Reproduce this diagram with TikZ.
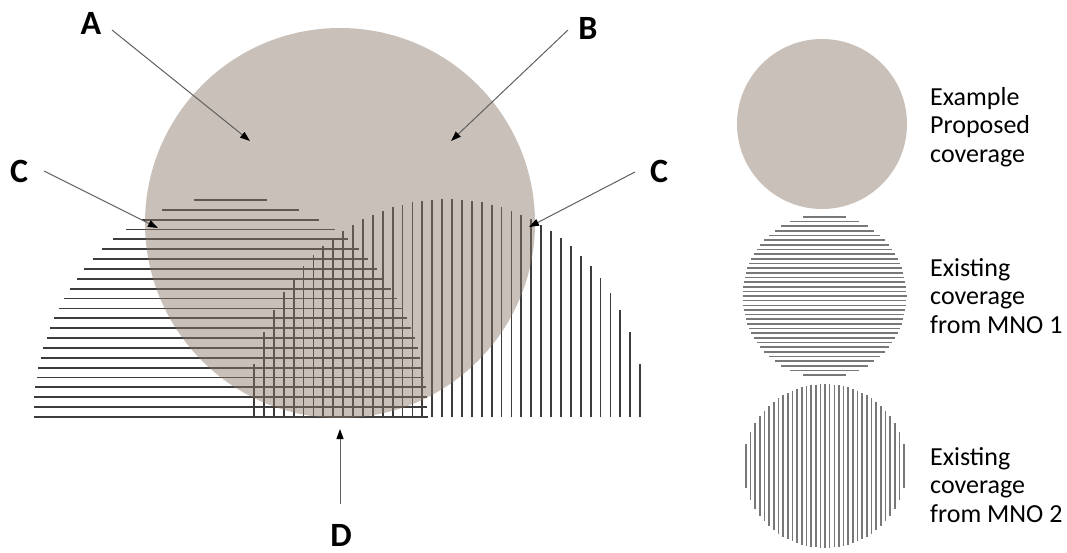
\documentclass[tikz,border=0pt]{standalone}
\usepackage{fontspec}
\setmainfont{Carlito}
\usetikzlibrary{arrows.meta}
\definecolor{propfill}{RGB}{140,121,106}
\definecolor{hatch}{RGB}{60,60,60}
\definecolor{leghatch}{RGB}{120,120,120}
\definecolor{arrowline}{RGB}{95,95,95}
\begin{document}
\begin{tikzpicture}[x=1pt,y=-1pt,
  lbl/.style={font=\fontsize{34}{34}\selectfont\bfseries, inner sep=0pt, anchor=base},
  legtext/.style={font=\fontsize{26}{28.5}\selectfont, align=left, anchor=base west, inner sep=0pt},
  pointer/.style={draw=arrowline, line width=1pt, -{Triangle[length=10pt,width=7pt,color=black]}},
  hline/.style={draw=hatch, line width=1.8pt},
  legline/.style={draw=leghatch, line width=1.6pt},
  proposed/.style={fill=propfill, fill opacity=0.47}]
\useasboundingbox (0,0) rectangle (1067,552);

% MNO 1 coverage: horizontal lines
\foreach \i in {0,...,22}{
  \pgfmathsetmacro\yy{417-\i*9.87}
  \pgfmathsetmacro\hw{197*sqrt(max(0,1-(\i*9.87/221)^2))}
  \draw[hline] (230.5-\hw,\yy) -- (230.5+\hw,\yy);
}
% MNO 2 coverage: vertical lines
\foreach \j in {0,...,39}{
  \pgfmathsetmacro\xx{254+\j*9.9}
  \pgfmathsetmacro\hh{218*sqrt(max(0,1-((\xx-447)/199)^2))}
  \draw[hline] (\xx,417) -- (\xx,417-\hh);
}
% proposed coverage
\path[proposed] (340,223) circle[radius=195];

% labels
\node[lbl] (A) at (91,34) {A};
\node[lbl] (B) at (588,39) {B};
\node[lbl] (C1) at (19,182) {C};
\node[lbl] (C2) at (659,182) {C};
\node[lbl] (D) at (341,546) {D};

\coordinate (As) at (112,30);  \coordinate (At) at (250,141);
\coordinate (Bs) at (568,30);  \coordinate (Bt) at (451,141);
\coordinate (C1s) at (44,171); \coordinate (C1t) at (158,228);
\coordinate (C2s) at (635,172); \coordinate (C2t) at (529,227);
\coordinate (Ds) at (340,504); \coordinate (Dt) at (340,429);
\draw[pointer] (As) -- (At);
\draw[pointer] (Bs) -- (Bt);
\draw[pointer] (C1s) -- (C1t);
\draw[pointer] (C2s) -- (C2t);
\draw[pointer] (Ds) -- (Dt);

% legend
\path[proposed] (822,124) circle[radius=85];
\foreach \i in {-17,...,17}{
  \pgfmathsetmacro\yy{296+\i*4.65}
  \pgfmathsetmacro\hw{sqrt(max(0,6724-(\i*4.65)^2))}
  \draw[legline] (824.5-\hw,\yy) -- (824.5+\hw,\yy);
}
\foreach \i in {-17,...,17}{
  \pgfmathsetmacro\xx{825+\i*4.65}
  \pgfmathsetmacro\hh{sqrt(max(0,6724-(\i*4.65)^2))}
  \draw[legline] (\xx,466-\hh) -- (\xx,466+\hh);
}
\node[legtext] (t1) at (930,162) {Example\\Proposed\\coverage};
\node[legtext] (t2) at (930,333) {Existing\\coverage\\from MNO 1};
\node[legtext] (t3) at (930,522) {Existing\\coverage\\from MNO 2};
\end{tikzpicture}
\end{document}
